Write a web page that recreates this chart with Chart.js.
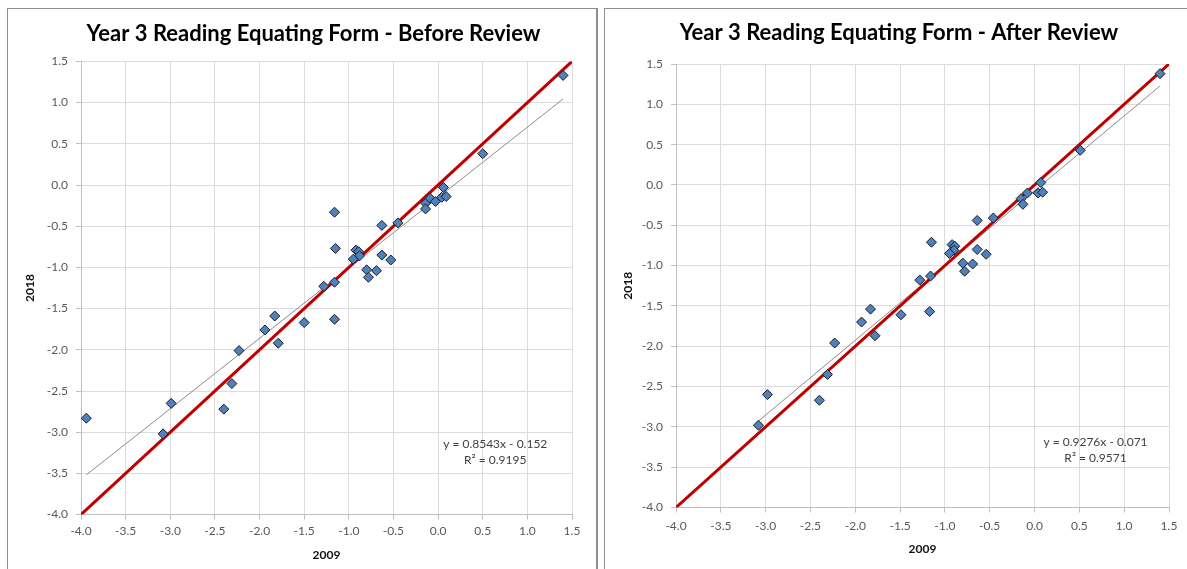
<!DOCTYPE html>
<html>
<head>
<meta charset="utf-8">
<title>Year 3 Reading Equating Form</title>
<script src="https://cdn.jsdelivr.net/npm/chart.js@4.4.1/dist/chart.umd.min.js"></script>
<style>
  html, body { margin: 0; padding: 0; background: #fff; overflow: hidden; }
  body { width: 1187px; height: 569px; position: relative; }
  .panel { position: absolute; box-sizing: border-box; border: 1px solid #8e8e8e; background: #fff; }
  #panelBefore { left: 7px; top: 8px; width: 591px; height: 700px; border-right-width: 2px; }
  #panelAfter { left: 604px; top: 8px; width: 700px; height: 700px; }
  canvas { position: absolute; z-index: 1; }
  #chartBefore { left: 8px; top: 10px; }
  #chartAfter { left: 605px; top: 10px; }
</style>
</head>
<body>
<div class="panel" id="panelBefore"></div>
<div class="panel" id="panelAfter"></div>
<canvas id="chartBefore" width="586" height="559"></canvas>
<canvas id="chartAfter" width="582" height="559"></canvas>
<script>
// axis range shared by both charts
const axisMin = -4.0
const axisMax = 1.5
const axisStep = 0.5

// before review: 2009 vs 2018 item values
const beforeX = [1.40, 0.50, -1.16, -1.15, -0.63, -0.45, -0.92, -0.89, -0.88, -0.95, -0.63, -0.53,
  -0.80, -0.69, -0.78, -1.28, -1.16, -0.14, -0.14, -0.09, -0.03, 0.04, 0.06, 0.09,
  -3.94, -3.08, -2.99, -2.40, -2.31, -2.23, -1.94, -1.83, -1.79, -1.50, -1.16]
const beforeY = [1.33, 0.38, -0.33, -0.77, -0.49, -0.46, -0.79, -0.81, -0.86, -0.90, -0.85, -0.91,
  -1.03, -1.04, -1.12, -1.23, -1.18, -0.22, -0.29, -0.16, -0.20, -0.15, -0.03, -0.14,
  -2.83, -3.02, -2.65, -2.72, -2.41, -2.01, -1.76, -1.59, -1.92, -1.67, -1.63]
const beforeSlope = 0.8543
const beforeIntercept = -0.152
const beforeR2 = 0.9195

// after review
const afterX = [1.40, 0.51, 0.07, 0.04, 0.09, -0.08, -0.15, -0.13, -0.64, -0.46, -1.15, -0.92,
  -0.89, -0.90, -0.95, -0.64, -0.54, -0.80, -0.69, -0.78, -1.28, -1.16,
  -1.83, -1.93, -1.49, -1.17, -1.78, -2.23, -2.31, -2.40, -2.98, -3.08]
const afterY = [1.38, 0.43, 0.03, -0.10, -0.09, -0.10, -0.17, -0.24, -0.44, -0.41, -0.71, -0.74,
  -0.76, -0.81, -0.85, -0.80, -0.86, -0.97, -0.98, -1.07, -1.18, -1.13,
  -1.54, -1.70, -1.61, -1.57, -1.87, -1.96, -2.35, -2.67, -2.60, -2.98]
const afterSlope = 0.9276
const afterIntercept = -0.071
const afterR2 = 0.9571

const FONT = 'Lato'

// chart title, drawn in the space kept free by layout.padding.top
const panelTitle = {
  id: 'panelTitle',
  afterDraw(chart, args, opts) {
    const {ctx} = chart
    ctx.save()
    ctx.font = 'bold 22px ' + FONT
    ctx.fillStyle = '#000'
    ctx.textAlign = 'center'
    ctx.textBaseline = 'middle'
    ctx.fillText(opts.text, opts.x, opts.y)
    ctx.restore()
  }
}

// trend line equation text, drawn at a data position
const eqLabel = {
  id: 'eqLabel',
  afterDatasetsDraw(chart, args, opts) {
    const {ctx, scales: {x, y}} = chart
    ctx.save()
    ctx.font = '12px ' + FONT
    ctx.fillStyle = '#404040'
    ctx.textAlign = 'center'
    ctx.textBaseline = 'middle'
    const px = x.getPixelForValue(opts.at[0])
    const py = y.getPixelForValue(opts.at[1])
    opts.lines.forEach((t, i) => ctx.fillText(t, px, py + i * 16))
    ctx.restore()
  }
}

function fmtEq(slope, intercept) {
  const sign = intercept < 0 ? ' - ' : ' + '
  return 'y = ' + slope + 'x' + sign + Math.abs(intercept)
}

function makeChart(id, title, xs, ys, slope, intercept, r2, lay) {
  const pts = xs.map((v, i) => ({x: v, y: ys[i]}))
  const x0 = Math.min(...xs), x1 = Math.max(...xs)
  const trend = [x0, x1].map(v => ({x: v, y: slope * v + intercept}))
  const identity = [axisMin, axisMax].map(v => ({x: v, y: v}))
  const tickFmt = v => (Math.abs(v) < 1e-9 ? 0 : v).toFixed(1)

  const axis = (name, extra) => Object.assign({
    type: 'linear',
    min: axisMin,
    max: axisMax,
    ticks: {stepSize: axisStep, callback: tickFmt, color: '#595959', font: {family: FONT, size: 12}},
    grid: {color: '#dcdcdc', tickColor: '#bfbfbf', tickLength: 5},
    border: {color: '#bfbfbf'},
    title: {display: true, text: name, color: '#111', font: {family: FONT, size: 12, weight: 'bold'}}
  }, extra)

  const xAxis = axis('2009', {afterFit: s => { s.height = lay.xHeight }})
  xAxis.ticks.padding = lay.xTickPad
  xAxis.title.padding = {top: 0, bottom: lay.xTitlePad}
  const yAxis = axis('2018', {afterFit: s => { s.width = lay.yWidth }})
  yAxis.ticks.padding = 8
  yAxis.title.padding = {top: lay.yTitlePad, bottom: 0}

  return new Chart(document.getElementById(id), {
    type: 'scatter',
    data: {
      datasets: [{
        data: pts,
        pointStyle: 'rectRot',
        pointRadius: 5,
        backgroundColor: '#4f81bd',
        borderColor: '#1c1c1c',
        borderWidth: 1
      }, {
        data: identity,
        showLine: true,
        pointRadius: 0,
        borderColor: '#c00000',
        borderWidth: 3
      }, {
        data: trend,
        showLine: true,
        pointRadius: 0,
        borderColor: '#8c8c8c',
        borderWidth: 1
      }]
    },
    options: {
      responsive: false,
      animation: false,
      layout: {padding: {left: 0, top: lay.plotTop, right: lay.right, bottom: 0}},
      scales: {x: xAxis, y: yAxis},
      plugins: {
        legend: {display: false},
        tooltip: {enabled: false},
        title: {display: false},
        panelTitle: {text: title, x: lay.titleX, y: lay.titleY},
        eqLabel: {at: lay.eqAt, lines: [fmtEq(slope, intercept), 'R² = ' + r2]}
      }
    },
    plugins: [panelTitle, eqLabel]
  })
}

makeChart('chartBefore', 'Year 3 Reading Equating Form - Before Review',
  beforeX, beforeY, beforeSlope, beforeIntercept, beforeR2,
  {xHeight: 54.4, xTickPad: 4, xTitlePad: 6.8, yWidth: 73, yTitlePad: 15.4, right: 22,
   plotTop: 51.4, titleX: 305.5, titleY: 24, eqAt: [0.64, -3.15]})

makeChart('chartAfter', 'Year 3 Reading Equating Form - After Review',
  afterX, afterY, afterSlope, afterIntercept, afterR2,
  {xHeight: 61.5, xTickPad: 6, xTitlePad: 12.9, yWidth: 71, yTitlePad: 16.4, right: 18,
   plotTop: 54, titleX: 294, titleY: 23, eqAt: [0.68, -3.19]})
</script>
</body>
</html>
